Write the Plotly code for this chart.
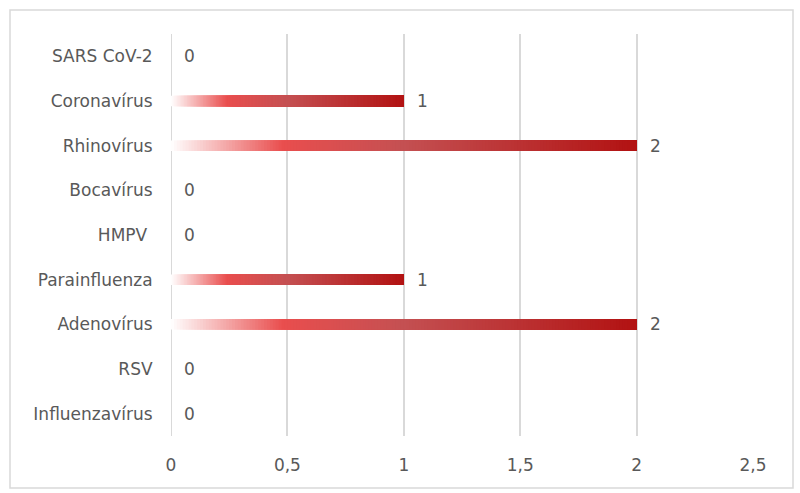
import plotly.graph_objects as go

categories = ["SARS CoV-2", "Coronavírus", "Rhinovírus", "Bocavírus", "HMPV\u00a0",
              "Parainfluenza", "Adenovírus", "RSV", "Influenzavírus"]
values = [0, 1, 2, 0, 0, 1, 2, 0, 0]
x_ticks = [0, 0.5, 1, 1.5, 2, 2.5]
x_tick_labels = ["0", "0,5", "1", "1,5", "2", "2,5"]

# gradient stops (fraction of bar length -> rgb)
stops = [(0.0, (255, 255, 255)), (0.24, (233, 78, 78)), (0.5, (196, 80, 82)), (1.0, (178, 18, 18))]

def color_at(t):
    for (t0, c0), (t1, c1) in zip(stops[:-1], stops[1:]):
        if t <= t1:
            f = (t - t0) / (t1 - t0) if t1 > t0 else 0
            return "rgb(%d,%d,%d)" % tuple(round(a + (b - a) * f) for a, b in zip(c0, c1))
    return "rgb(%d,%d,%d)" % stops[-1][1]

N = 160
fig = go.Figure()
for k in range(N):
    t = k / N
    fig.add_trace(go.Bar(
        y=categories,
        x=[v * (1 - t) for v in values],
        base=[v * t for v in values],
        orientation="h",
        marker=dict(color=color_at(t + 0.5 / N), line=dict(width=0)),
        width=0.235,
        hoverinfo="skip",
        showlegend=False,
    ))

font = "DejaVu Sans"
fsize = 17
for c, v in zip(categories, values):
    fig.add_annotation(x=v, y=c, text=str(v), showarrow=False, xanchor="left",
                       xshift=11, font=dict(family=font, size=fsize, color="#595959"))

fig.update_layout(
    barmode="overlay",
    width=800, height=493,
    margin=dict(l=171, r=47, t=34, b=57),
    paper_bgcolor="white", plot_bgcolor="white",
    font=dict(family=font, size=fsize, color="#595959"),
    xaxis=dict(range=[0, 2.5], tickvals=x_ticks, ticktext=x_tick_labels,
               showgrid=True, gridcolor="#d9d9d9", gridwidth=2, zeroline=False,
               showline=False, ticks="outside", ticklen=14, tickcolor="rgba(0,0,0,0)",
               tickfont=dict(family=font, size=fsize, color="#595959"), fixedrange=True),
    yaxis=dict(type="category", autorange="reversed", showgrid=False, zeroline=False,
               showline=False, ticks="outside", ticklen=14, tickcolor="rgba(0,0,0,0)",
               tickfont=dict(family=font, size=fsize, color="#595959"), fixedrange=True),
    shapes=[
        dict(type="line", xref="x", yref="paper", x0=0, x1=0, y0=0, y1=1,
             line=dict(color="#d9d9d9", width=2), layer="below"),
        dict(type="rect", xref="paper", yref="paper",
             x0=(10 - 171) / 582, x1=(793 - 171) / 582,
             y0=-(488 - 436) / 402, y1=1 + (34 - 10) / 402,
             line=dict(color="#d9d9d9", width=1.5), fillcolor="rgba(0,0,0,0)"),
    ],
)

fig.write_html("out.html", config={"displayModeBar": False},
               post_script="document.body.style.margin='0';document.body.style.overflow='hidden';")
